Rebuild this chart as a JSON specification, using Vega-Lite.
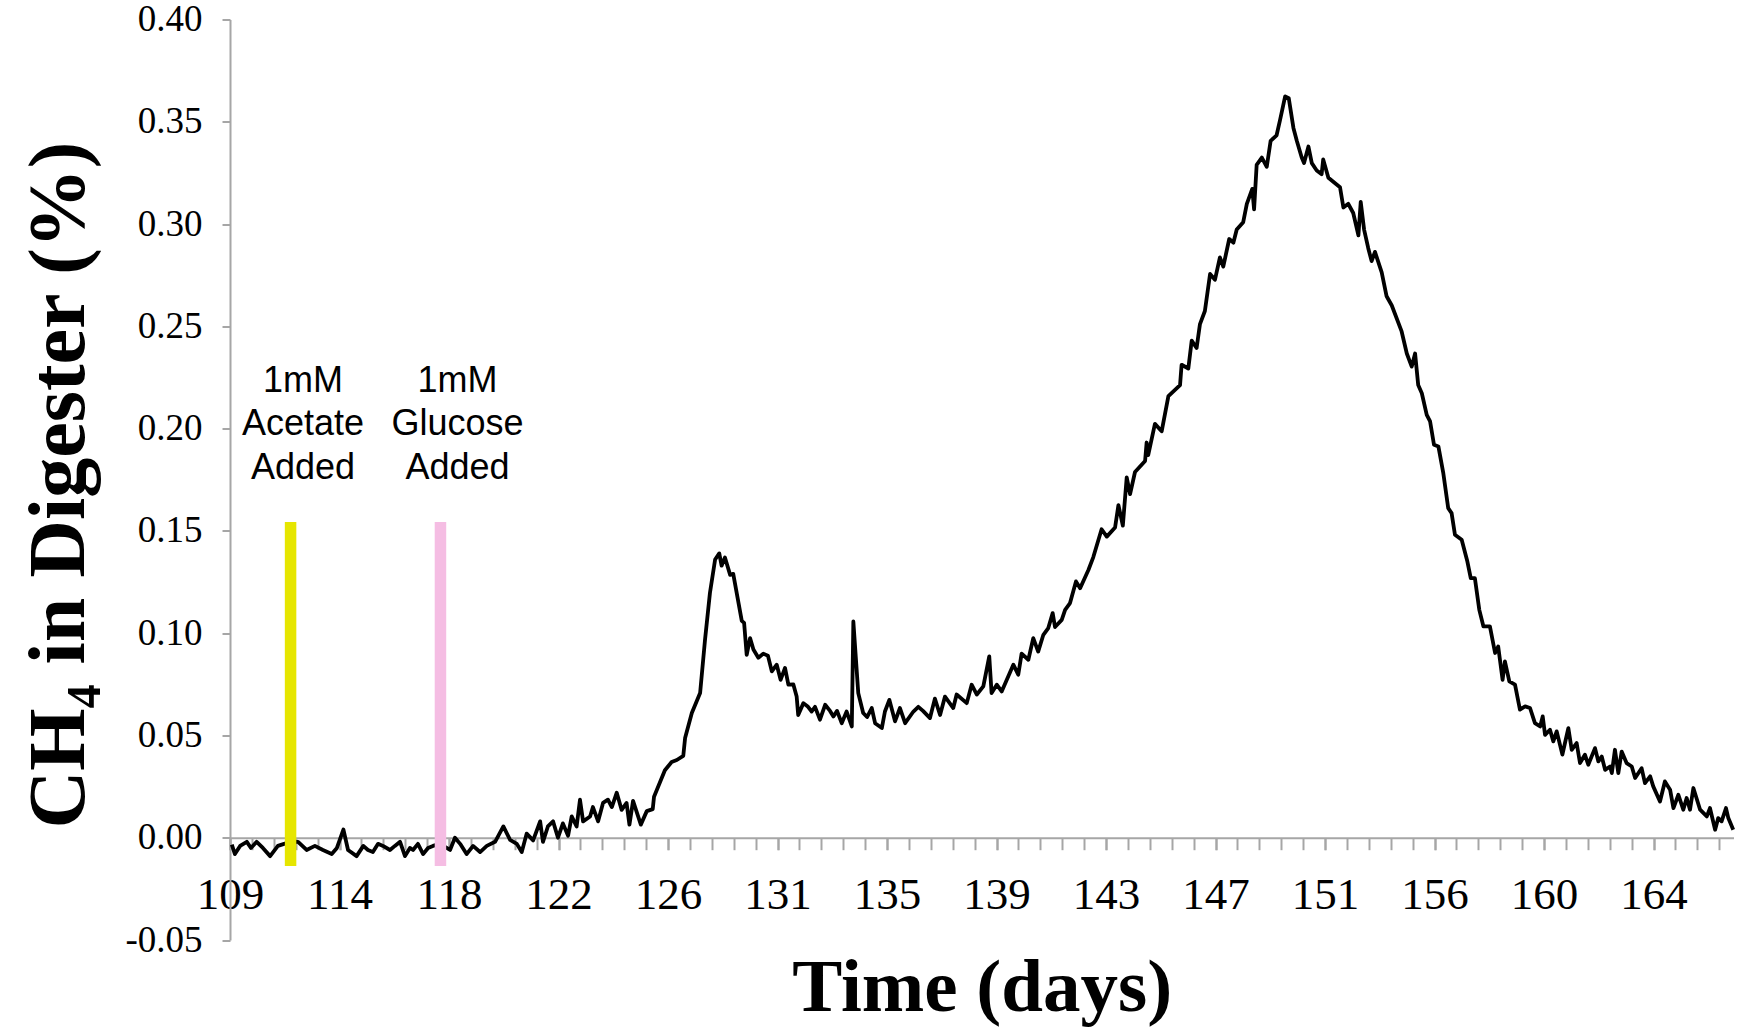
{
  "$schema": "https://vega.github.io/schema/vega-lite/v6.json",
  "width": 1503.5,
  "height": 920.5,
  "autosize": {"type": "none"},
  "padding": {"left": 230, "top": 19.5, "right": 7.5, "bottom": 87},
  "background": "white",
  "config": {"view": {"stroke": null}},
  "datasets": {
    "series": [
      {"day":109.07,"ch4":-0.0034},{"day":109.19,"ch4":-0.008},{"day":109.39,"ch4":-0.004},{"day":109.65,"ch4":-0.002},{"day":109.81,"ch4":-0.005},{"day":110.03,"ch4":-0.002},{"day":110.27,"ch4":-0.005},{"day":110.55,"ch4":-0.009},{"day":110.85,"ch4":-0.004},{"day":111.09,"ch4":-0.003},{"day":111.36,"ch4":-0.002},{"day":111.63,"ch4":-0.002},{"day":111.96,"ch4":-0.006},{"day":112.28,"ch4":-0.004},{"day":112.59,"ch4":-0.006},{"day":112.93,"ch4":-0.008},{"day":113.13,"ch4":-0.005},{"day":113.38,"ch4":0.004},{"day":113.56,"ch4":-0.006},{"day":113.89,"ch4":-0.009},{"day":114.15,"ch4":-0.004},{"day":114.33,"ch4":-0.006},{"day":114.52,"ch4":-0.007},{"day":114.72,"ch4":-0.003},{"day":114.91,"ch4":-0.004},{"day":115.18,"ch4":-0.006},{"day":115.37,"ch4":-0.004},{"day":115.57,"ch4":-0.002},{"day":115.76,"ch4":-0.009},{"day":115.95,"ch4":-0.005},{"day":116.07,"ch4":-0.006},{"day":116.26,"ch4":-0.003},{"day":116.46,"ch4":-0.008},{"day":116.65,"ch4":-0.005},{"day":116.84,"ch4":-0.004},{"day":117.11,"ch4":-0.003},{"day":117.5,"ch4":-0.006},{"day":117.69,"ch4":0},{"day":117.89,"ch4":-0.003},{"day":118.14,"ch4":-0.008},{"day":118.39,"ch4":-0.004},{"day":118.66,"ch4":-0.007},{"day":118.92,"ch4":-0.004},{"day":119.24,"ch4":-0.002},{"day":119.56,"ch4":0.0055},{"day":119.82,"ch4":-0.001},{"day":120.08,"ch4":-0.003},{"day":120.27,"ch4":-0.007},{"day":120.46,"ch4":0.002},{"day":120.71,"ch4":-0.0013},{"day":120.98,"ch4":0.008},{"day":121.09,"ch4":-0.002},{"day":121.28,"ch4":0.0055},{"day":121.48,"ch4":0.008},{"day":121.67,"ch4":0},{"day":121.86,"ch4":0.007},{"day":122.06,"ch4":0.001},{"day":122.2,"ch4":0.0104},{"day":122.39,"ch4":0.0055},{"day":122.52,"ch4":0.0186},{"day":122.64,"ch4":0.008},{"day":122.91,"ch4":0.0104},{"day":123.02,"ch4":0.015},{"day":123.22,"ch4":0.008},{"day":123.41,"ch4":0.017},{"day":123.6,"ch4":0.0186},{"day":123.75,"ch4":0.015},{"day":123.94,"ch4":0.022},{"day":124.13,"ch4":0.0136},{"day":124.32,"ch4":0.017},{"day":124.43,"ch4":0.0064},{"day":124.57,"ch4":0.018},{"day":124.87,"ch4":0.0064},{"day":125.1,"ch4":0.013},{"day":125.33,"ch4":0.014},{"day":125.38,"ch4":0.02},{"day":125.8,"ch4":0.033},{"day":126.06,"ch4":0.037},{"day":126.26,"ch4":0.038},{"day":126.51,"ch4":0.04},{"day":126.58,"ch4":0.0487},{"day":126.84,"ch4":0.061},{"day":127.16,"ch4":0.0707},{"day":127.35,"ch4":0.0968},{"day":127.54,"ch4":0.1196},{"day":127.74,"ch4":0.136},{"day":127.9,"ch4":0.139},{"day":127.99,"ch4":0.133},{"day":128.12,"ch4":0.137},{"day":128.32,"ch4":0.1285},{"day":128.44,"ch4":0.129},{"day":128.77,"ch4":0.106},{"day":128.86,"ch4":0.105},{"day":128.96,"ch4":0.0894},{"day":129.09,"ch4":0.0976},{"day":129.22,"ch4":0.092},{"day":129.41,"ch4":0.088},{"day":129.6,"ch4":0.09},{"day":129.78,"ch4":0.089},{"day":129.93,"ch4":0.0813},{"day":130.12,"ch4":0.0846},{"day":130.27,"ch4":0.0772},{"day":130.44,"ch4":0.083},{"day":130.57,"ch4":0.0748},{"day":130.76,"ch4":0.075},{"day":130.89,"ch4":0.069},{"day":130.95,"ch4":0.06},{"day":131.15,"ch4":0.0658},{"day":131.33,"ch4":0.064},{"day":131.47,"ch4":0.0617},{"day":131.6,"ch4":0.064},{"day":131.79,"ch4":0.0577},{"day":131.99,"ch4":0.065},{"day":132.18,"ch4":0.062},{"day":132.31,"ch4":0.0593},{"day":132.45,"ch4":0.062},{"day":132.63,"ch4":0.056},{"day":132.82,"ch4":0.0617},{"day":133.02,"ch4":0.0544},{"day":133.08,"ch4":0.1057},{"day":133.27,"ch4":0.0707},{"day":133.46,"ch4":0.061},{"day":133.61,"ch4":0.059},{"day":133.79,"ch4":0.0634},{"day":133.92,"ch4":0.056},{"day":134.18,"ch4":0.0536},{"day":134.3,"ch4":0.0617},{"day":134.47,"ch4":0.0674},{"day":134.69,"ch4":0.0569},{"day":134.88,"ch4":0.0634},{"day":135.08,"ch4":0.056},{"day":135.4,"ch4":0.0617},{"day":135.59,"ch4":0.064},{"day":135.77,"ch4":0.062},{"day":136.04,"ch4":0.0585},{"day":136.23,"ch4":0.068},{"day":136.43,"ch4":0.06},{"day":136.62,"ch4":0.069},{"day":136.94,"ch4":0.0634},{"day":137.07,"ch4":0.07},{"day":137.46,"ch4":0.0658},{"day":137.65,"ch4":0.0748},{"day":137.85,"ch4":0.07},{"day":138.1,"ch4":0.074},{"day":138.33,"ch4":0.0886},{"day":138.42,"ch4":0.0707},{"day":138.62,"ch4":0.0748},{"day":138.81,"ch4":0.0715},{"day":139.26,"ch4":0.0846},{"day":139.45,"ch4":0.0797},{"day":139.58,"ch4":0.09},{"day":139.84,"ch4":0.087},{"day":140.03,"ch4":0.0976},{"day":140.22,"ch4":0.091},{"day":140.42,"ch4":0.0992},{"day":140.61,"ch4":0.1025},{"day":140.78,"ch4":0.1098},{"day":140.87,"ch4":0.103},{"day":141.13,"ch4":0.1065},{"day":141.26,"ch4":0.1114},{"day":141.45,"ch4":0.1147},{"day":141.68,"ch4":0.1253},{"day":141.84,"ch4":0.122},{"day":142.16,"ch4":0.1309},{"day":142.35,"ch4":0.1372},{"day":142.67,"ch4":0.1508},{"day":142.87,"ch4":0.1472},{"day":143.19,"ch4":0.1517},{"day":143.32,"ch4":0.1626},{"day":143.49,"ch4":0.1526},{"day":143.64,"ch4":0.1761},{"day":143.77,"ch4":0.168},{"day":143.96,"ch4":0.1788},{"day":144.35,"ch4":0.1842},{"day":144.41,"ch4":0.1932},{"day":144.47,"ch4":0.187},{"day":144.73,"ch4":0.2023},{"day":144.99,"ch4":0.1987},{"day":145.25,"ch4":0.2159},{"day":145.7,"ch4":0.2213},{"day":145.76,"ch4":0.2312},{"day":146.02,"ch4":0.2294},{"day":146.15,"ch4":0.243},{"day":146.34,"ch4":0.2394},{"day":146.47,"ch4":0.2511},{"day":146.66,"ch4":0.2575},{"day":146.86,"ch4":0.2756},{"day":147.05,"ch4":0.2728},{"day":147.24,"ch4":0.2837},{"day":147.37,"ch4":0.2792},{"day":147.6,"ch4":0.2927},{"day":147.76,"ch4":0.2909},{"day":147.89,"ch4":0.2973},{"day":148.14,"ch4":0.3009},{"day":148.28,"ch4":0.3099},{"day":148.49,"ch4":0.3172},{"day":148.56,"ch4":0.3072},{"day":148.66,"ch4":0.3289},{"day":148.86,"ch4":0.3325},{"day":149.05,"ch4":0.328},{"day":149.2,"ch4":0.3407},{"day":149.43,"ch4":0.3434},{"day":149.56,"ch4":0.3507},{"day":149.76,"ch4":0.3624},{"day":149.9,"ch4":0.3615},{"day":150.08,"ch4":0.347},{"day":150.21,"ch4":0.3407},{"day":150.4,"ch4":0.3325},{"day":150.49,"ch4":0.3298},{"day":150.66,"ch4":0.3379},{"day":150.79,"ch4":0.3298},{"day":150.98,"ch4":0.3262},{"day":151.17,"ch4":0.3244},{"day":151.23,"ch4":0.3316},{"day":151.43,"ch4":0.3226},{"day":151.88,"ch4":0.318},{"day":152.01,"ch4":0.3081},{"day":152.2,"ch4":0.3099},{"day":152.39,"ch4":0.3054},{"day":152.59,"ch4":0.2945},{"day":152.68,"ch4":0.3108},{"day":152.81,"ch4":0.2973},{"day":152.97,"ch4":0.2882},{"day":153.1,"ch4":0.2819},{"day":153.23,"ch4":0.2864},{"day":153.49,"ch4":0.2764},{"day":153.68,"ch4":0.2647},{"day":153.88,"ch4":0.2602},{"day":154.26,"ch4":0.2475},{"day":154.46,"ch4":0.2367},{"day":154.65,"ch4":0.2303},{"day":154.78,"ch4":0.2367},{"day":154.9,"ch4":0.2213},{"day":155.04,"ch4":0.2173},{"day":155.23,"ch4":0.2067},{"day":155.36,"ch4":0.2035},{"day":155.51,"ch4":0.1921},{"day":155.68,"ch4":0.1913},{"day":155.87,"ch4":0.1782},{"day":156.06,"ch4":0.1611},{"day":156.19,"ch4":0.1587},{"day":156.32,"ch4":0.1481},{"day":156.58,"ch4":0.1457},{"day":156.8,"ch4":0.135},{"day":156.93,"ch4":0.1269},{"day":157.09,"ch4":0.1269},{"day":157.26,"ch4":0.1114},{"day":157.42,"ch4":0.1033},{"day":157.67,"ch4":0.1033},{"day":157.87,"ch4":0.0903},{"day":157.99,"ch4":0.0935},{"day":158.16,"ch4":0.0772},{"day":158.25,"ch4":0.0862},{"day":158.42,"ch4":0.0764},{"day":158.64,"ch4":0.0748},{"day":158.83,"ch4":0.0626},{"day":159.03,"ch4":0.0642},{"day":159.22,"ch4":0.0634},{"day":159.41,"ch4":0.056},{"day":159.61,"ch4":0.0544},{"day":159.71,"ch4":0.0593},{"day":159.8,"ch4":0.0503},{"day":159.99,"ch4":0.0528},{"day":160.12,"ch4":0.0471},{"day":160.25,"ch4":0.052},{"day":160.47,"ch4":0.0406},{"day":160.57,"ch4":0.0463},{"day":160.7,"ch4":0.0536},{"day":160.83,"ch4":0.043},{"day":161.02,"ch4":0.0463},{"day":161.15,"ch4":0.0365},{"day":161.34,"ch4":0.0406},{"day":161.47,"ch4":0.0357},{"day":161.73,"ch4":0.0438},{"day":161.86,"ch4":0.0373},{"day":161.99,"ch4":0.0397},{"day":162.12,"ch4":0.0332},{"day":162.31,"ch4":0.0348},{"day":162.38,"ch4":0.0316},{"day":162.5,"ch4":0.043},{"day":162.63,"ch4":0.0316},{"day":162.76,"ch4":0.0421},{"day":162.95,"ch4":0.0365},{"day":163.15,"ch4":0.0348},{"day":163.28,"ch4":0.0292},{"day":163.53,"ch4":0.034},{"day":163.66,"ch4":0.0267},{"day":163.86,"ch4":0.03},{"day":163.98,"ch4":0.0251},{"day":164.24,"ch4":0.0177},{"day":164.43,"ch4":0.0275},{"day":164.63,"ch4":0.0235},{"day":164.76,"ch4":0.0145},{"day":164.95,"ch4":0.021},{"day":165.14,"ch4":0.0137},{"day":165.27,"ch4":0.0194},{"day":165.4,"ch4":0.0137},{"day":165.53,"ch4":0.0243},{"day":165.79,"ch4":0.0137},{"day":166.05,"ch4":0.0104},{"day":166.17,"ch4":0.0145},{"day":166.37,"ch4":0.0039},{"day":166.49,"ch4":0.0096},{"day":166.62,"ch4":0.008},{"day":166.79,"ch4":0.0145},{"day":166.88,"ch4":0.0096},{"day":167.07,"ch4":0.0039}
    ],
    "additions": [
      {"substrate": "Acetate", "day": 111.34, "top": 0.1544, "bottom": -0.0138},
      {"substrate": "Glucose", "day": 117.13, "top": 0.1544, "bottom": -0.0138}
    ],
    "notes": [
      {"substrate": "Acetate", "day": 111.82, "level": 0.2181, "note": "1mM\nAcetate\nAdded"},
      {"substrate": "Glucose", "day": 117.79, "level": 0.2181, "note": "1mM\nGlucose\nAdded"}
    ]
  },
  "resolve": {"axis": {"x": "independent"}},
  "layer": [
    {
      "data": {"name": "series"},
      "mark": {"type": "line", "color": "black", "strokeWidth": 3.8, "strokeJoin": "round"},
      "encoding": {
        "x": {
          "field": "day", "type": "quantitative",
          "scale": {"domain": [109, 167.08], "nice": false, "zero": false},
          "axis": {
            "orient": "bottom", "offset": -102.3,
            "values": [109,109.846,110.692,111.538,112.384,113.23,114.076,114.922,115.768,116.614,117.46,118.306,119.152,119.998,120.844,121.69,122.536,123.382,124.228,125.074,125.92,126.766,127.612,128.458,129.304,130.15,130.996,131.842,132.688,133.534,134.38,135.226,136.072,136.918,137.764,138.61,139.456,140.302,141.148,141.994,142.84,143.686,144.532,145.378,146.224,147.07,147.916,148.762,149.608,150.454,151.3,152.146,152.992,153.838,154.684,155.53,156.376,157.222,158.068,158.914,159.76,160.606,161.452,162.298,163.144,163.99,164.836,165.682,166.528],
            "labels": false,
            "tickSize": 12, "tickColor": "#A6A6A6", "tickWidth": 2,
            "domainColor": "#A6A6A6", "domainWidth": 2, "grid": false,
            "title": null
          }
        },
        "y": {
          "field": "ch4", "type": "quantitative",
          "scale": {"domain": [-0.05, 0.4], "nice": false, "zero": false},
          "axis": {
            "values": [-0.05, 0, 0.05, 0.1, 0.15, 0.2, 0.25, 0.3, 0.35, 0.4],
            "labelExpr": "replace(format(datum.value, '.2f'), '\u2212', '-')",
            "labelFont": "Liberation Serif", "labelFontSize": 37, "labelColor": "black",
            "labelPadding": 20, "labelFlush": false, "labelOverlap": false,
            "tickSize": 8, "tickColor": "#A6A6A6", "tickWidth": 2,
            "domainColor": "#A6A6A6", "domainWidth": 2, "grid": false,
            "title": "CH₄ in Digester (%)", "titleFont": "Liberation Serif", "titleFontSize": 80,
            "titleFontWeight": "bold", "titleColor": "black", "titleAngle": -90,
            "titleX": -147, "titleY": 465, "titleBaseline": "alphabetic", "titleAlign": "center"
          }
        }
      }
    },
    {
      "data": {"name": "additions"},
      "mark": {"type": "rule", "strokeWidth": 11.5, "strokeCap": "butt"},
      "encoding": {
        "x": {
          "field": "day", "type": "quantitative",
          "axis": {
            "orient": "bottom", "offset": -102.3,
            "values": [109, 113.23, 117.46, 121.69, 125.92, 130.15, 134.38, 138.61, 142.84, 147.07, 151.3, 155.53, 159.76, 163.99],
            "labelExpr": "['109','114','118','122','126','131','135','139','143','147','151','156','160','164'][round((datum.value-109)/4.23)]",
            "labelFont": "Liberation Serif", "labelFontSize": 45, "labelColor": "black",
            "labelPadding": 23, "labelOverlap": false, "labelFlush": false, "labelBound": false,
            "tickSize": 12, "tickColor": "#A6A6A6", "tickWidth": 2,
            "domain": false, "grid": false,
            "title": "Time (days)", "titleFont": "Liberation Serif", "titleFontSize": 75,
            "titleFontWeight": "bold", "titleColor": "black",
            "titleX": 751.75, "titleY": 173, "titleBaseline": "alphabetic", "titleAlign": "center"
          }
        },
        "y": {"field": "top", "type": "quantitative"},
        "y2": {"field": "bottom"},
        "color": {
          "field": "substrate", "type": "nominal",
          "scale": {"domain": ["Acetate", "Glucose"], "range": ["#E6E600", "#F5BDE3"]},
          "legend": null
        }
      }
    },
    {
      "data": {"name": "notes"},
      "mark": {
        "type": "text", "font": "Liberation Sans", "fontSize": 36, "lineBreak": "\n",
        "lineHeight": 43.5, "align": "center", "baseline": "alphabetic", "color": "black"
      },
      "encoding": {
        "x": {"field": "day", "type": "quantitative", "axis": null},
        "y": {"field": "level", "type": "quantitative"},
        "text": {"field": "note"}
      }
    }
  ]
}
